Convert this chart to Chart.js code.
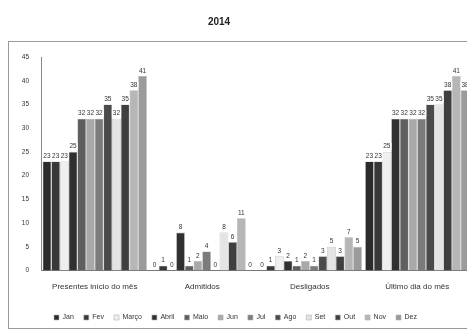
<!DOCTYPE html>
<html><head><meta charset="utf-8">
<script src="https://cdn.jsdelivr.net/npm/chart.js@4.4.0/dist/chart.umd.min.js"></script>
<style>
html,body{margin:0;padding:0;background:#fff;overflow:hidden;width:467px;height:331px}
#wrap{position:relative;width:480px;height:331px}
</style>
</head><body><div id="wrap"><canvas id="c" width="480" height="331"></canvas></div>
<script>
const chartTitle = '2014';
const categories = ['Presentes início do mês', 'Admitidos', 'Desligados', 'Último dia do mês'];
const months = ['Jan', 'Fev', 'Março', 'Abril', 'Maio', 'Jun', 'Jul', 'Ago', 'Set', 'Out', 'Nov', 'Dez'];
const jan   = [23, 0, 0, 23];
const fev   = [23, 1, 1, 23];
const marco = [23, 0, 3, 25];
const abril = [25, 8, 2, 32];
const maio  = [32, 1, 1, 32];
const jun   = [32, 2, 2, 32];
const jul   = [32, 4, 1, 32];
const ago   = [35, 0, 3, 35];
const set   = [32, 8, 5, 35];
const out   = [35, 6, 3, 38];
const nov   = [38, 11, 7, 41];
const dez   = [41, 0, 5, 38];
const yMin = 0, yMax = 45, yStep = 5;

const seriesValues = [jan, fev, marco, abril, maio, jun, jul, ago, set, out, nov, dez];
const seriesColors = ['#2b2b2b', '#383838', '#efefef', '#303030', '#5f5f5f', '#a9a9a9',
                      '#7b7b7b', '#4a4a4a', '#e4e4e4', '#3f3f3f', '#b6b6b6', '#9b9b9b'];
const FONT = '"Liberation Sans", Arial, sans-serif';

const framePlugin = {
  id: 'frame',
  beforeDraw(chart) {
    const ctx = chart.ctx;
    ctx.save();
    ctx.fillStyle = '#fff';
    ctx.fillRect(0, 0, chart.width, chart.height);
    ctx.strokeStyle = '#9a9a9a';
    ctx.lineWidth = 1;
    ctx.strokeRect(8.5, 41.5, 600, 287);
    ctx.restore();
  },
  afterDraw(chart) {
    const ctx = chart.ctx;
    ctx.save();
    ctx.font = 'bold 10px ' + FONT;
    ctx.fillStyle = '#222';
    ctx.textAlign = 'center';
    ctx.textBaseline = 'middle';
    ctx.fillText(chartTitle, 219, 22);
    ctx.restore();
  }
};

const valueLabels = {
  id: 'valueLabels',
  afterDatasetsDraw(chart) {
    const ctx = chart.ctx;
    ctx.save();
    ctx.font = '6.5px ' + FONT;
    ctx.textAlign = 'center';
    ctx.textBaseline = 'bottom';
    const items = [];
    chart.data.datasets.forEach((ds, i) => {
      const meta = chart.getDatasetMeta(i);
      meta.data.forEach((bar, j) => {
        const t = String(ds.data[j]);
        items.push({x: bar.x, y: bar.y - 2, t, w: ctx.measureText(t).width});
      });
    });
    ctx.fillStyle = '#fff';
    items.forEach(it => ctx.fillRect(it.x - it.w / 2 - 1, it.y - 7, it.w + 2, 7));
    ctx.fillStyle = '#333';
    items.forEach(it => ctx.fillText(it.t, it.x, it.y));
    ctx.restore();
  }
};

new Chart(document.getElementById('c'), {
  type: 'bar',
  data: {
    labels: categories,
    datasets: months.map((m, i) => ({
      label: m,
      data: seriesValues[i],
      backgroundColor: seriesColors[i],
      borderColor: '#b0b0b0',
      borderWidth: 0.6,
      barPercentage: 1,
      categoryPercentage: 0.97
    }))
  },
  options: {
    responsive: false,
    animation: false,
    devicePixelRatio: 1,
    layout: {padding: {top: 57, right: 9, bottom: 0, left: 0}},
    plugins: {
      title: {display: false},
      tooltip: {enabled: false},
      legend: {
        display: true,
        position: 'bottom',
        labels: {
          boxWidth: 5, boxHeight: 5, padding: 10,
          color: '#333',
          font: {size: 7, family: FONT}
        }
      }
    },
    scales: {
      x: {
        grid: {display: false, drawTicks: false},
        border: {display: true, color: '#777'},
        ticks: {color: '#333', font: {size: 8, family: FONT}, padding: 11, maxRotation: 0, autoSkip: false},
        afterFit(s) { s.height = 33.5; }
      },
      y: {
        min: yMin, max: yMax,
        grid: {display: false, drawTicks: false},
        border: {display: true, color: '#888'},
        ticks: {stepSize: yStep, color: '#333', font: {size: 6.5, family: FONT}, padding: 12},
        afterFit(s) { s.width = 41; }
      }
    }
  },
  plugins: [framePlugin, valueLabels]
});
</script>
</body></html>
